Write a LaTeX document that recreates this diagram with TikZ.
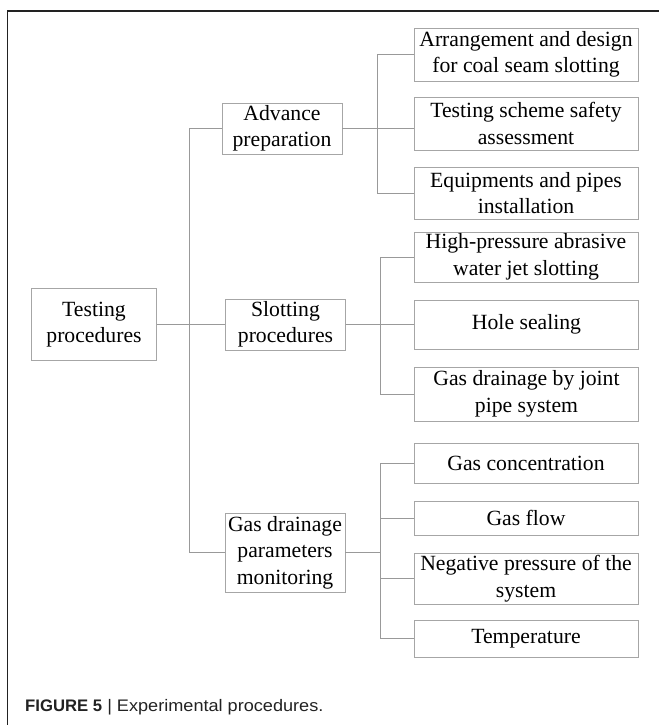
\documentclass[tikz,border=0pt]{standalone}
\usepackage{fontspec}
\usepackage{graphicx}
\setmainfont{Liberation Serif}
\newfontfamily\capfont{Liberation Sans}
\definecolor{boxgray}{HTML}{A6A6A6}
\definecolor{linegray}{HTML}{999999}
\definecolor{framecol}{HTML}{222222}
\begin{document}
\begin{tikzpicture}[x=1pt,y=-1pt,
  box/.style={draw=boxgray,line width=0.9pt,align=center,inner sep=0pt,
    font=\fontsize{21.7}{26.5}\selectfont},
  rbox/.style={box,minimum width=224pt},
  mbox/.style={box,minimum width=120pt},
  conn/.style={draw=linegray,line width=0.9pt}]
\useasboundingbox (0,0) rectangle (659,725);
\draw[framecol,line width=1.2pt] (7.5,725) -- (7.5,11) -- (659,11);

\node[box,minimum width=125pt,minimum height=72pt] (tp) at (94,324.5) {Testing\\procedures};

\node[mbox,minimum height=51pt] (ap) at (282,128.5) {Advance\\preparation};
\node[mbox,minimum height=51pt] (sp) at (285.5,324.5) {Slotting\\procedures};
\node[mbox,minimum height=79pt] (gdm) at (285,552.5) {Gas drainage\\parameters\\monitoring};

\node[rbox,minimum height=53pt] (arr) at (526,54.5) {Arrangement and design\\for coal seam slotting};
\node[rbox,minimum height=53pt] (tss) at (526,123.5) {Testing scheme safety\\assessment};
\node[rbox,minimum height=52pt] (eq) at (526,193) {Equipments and pipes\\installation};
\node[rbox,minimum height=50pt] (hp) at (526,257) {High-pressure abrasive\\water jet slotting};
\node[rbox,minimum height=49pt] (hs) at (526.5,324.5) {Hole sealing};
\node[rbox,minimum height=54pt] (gdj) at (526.5,394) {Gas drainage by joint\\pipe system};
\node[rbox,minimum height=40pt] (gc) at (526,463) {Gas concentration};
\node[rbox,minimum height=34pt] (gf) at (526,518) {Gas flow};
\node[rbox,minimum height=51pt] (np) at (526,578.5) {Negative pressure of the\\system};
\node[rbox,minimum height=37pt] (tmp) at (526,638.5) {Temperature};

\node[anchor=base west,inner sep=0pt,text=framecol,font=\capfont\fontsize{16.7}{20}\selectfont] (cap) at (25,711) {{\bfseries FIGURE 5}\scalebox{1.085}[1]{ | Experimental procedures.}};

% trunk
\draw[conn] (tp.east) -- (sp.west);
\draw[conn] (ap.west) -- ++(-32,0) |- (gdm.west);
% bracket 1
\draw[conn] (ap.east) -- (ap.east -| tss.west);
\draw[conn] (ap.east) -- ++(35,0) |- (arr.west);
\draw[conn] (ap.east) -- ++(35,0) |- (eq.west);
% bracket 2
\draw[conn] (sp.east) -- (hs.west);
\draw[conn] (sp.east) -- ++(34,0) |- (hp.west);
\draw[conn] (sp.east) -- ++(34,0) |- (gdj.west);
% bracket 3
\draw[conn] (gdm.east) -- ++(35,0) |- (gc.west);
\draw[conn] (gdm.east) -- ++(35,0) |- (gf.west);
\draw[conn] (gdm.east) -- ++(35,0) |- (np.west);
\draw[conn] (gdm.east) -- ++(35,0) |- (tmp.west);
\end{tikzpicture}
\end{document}
